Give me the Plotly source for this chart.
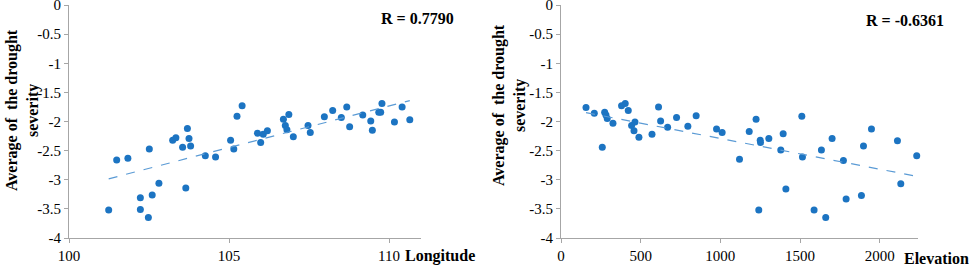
import numpy as np
import plotly.graph_objects as go

# Left panel: Longitude vs average drought severity
longitude = [101.24, 101.49, 101.84, 102.51, 102.23, 102.23, 102.48, 102.60, 102.81,
             103.24, 103.34, 103.55, 103.70, 103.75, 103.80, 103.65, 104.26, 104.58,
             105.05, 105.15, 105.25, 105.41, 105.89, 105.99, 106.07, 106.20, 106.70,
             106.87, 106.76, 106.81, 107.01, 107.47, 107.54, 107.98, 108.24, 108.51,
             108.68, 108.77, 109.18, 109.43, 109.48, 109.68, 109.74, 109.78, 110.17,
             110.41, 110.65]
severity_lon = [-3.52, -2.66, -2.63, -2.47, -3.31, -3.51, -3.65, -3.26, -3.06,
                -2.32, -2.28, -2.44, -2.12, -2.29, -2.42, -3.14, -2.59, -2.61,
                -2.32, -2.47, -1.91, -1.73, -2.20, -2.36, -2.22, -2.16, -1.96,
                -1.88, -2.07, -2.14, -2.26, -2.07, -2.19, -1.92, -1.81, -1.93,
                -1.75, -2.09, -1.89, -1.99, -2.15, -1.84, -1.84, -1.69, -2.01,
                -1.75, -1.97]

# Right panel: Elevation vs average drought severity
elevation = [157, 209, 259, 274, 282, 290, 326, 380, 403, 422, 443, 458, 464, 489,
             571, 612, 625, 669, 725, 796, 848, 976, 1011, 1120, 1181, 1224, 1241,
             1250, 1252, 1304, 1379, 1394, 1411, 1511, 1515, 1588, 1634, 1661, 1701,
             1772, 1789, 1885, 1898, 1948, 2111, 2132, 2232]
severity_elev = [-1.76, -1.86, -2.44, -1.84, -1.89, -1.95, -2.03, -1.73, -1.69, -1.81,
                 -2.07, -2.16, -2.01, -2.27, -2.22, -1.75, -1.99, -2.10, -1.93, -2.08,
                 -1.90, -2.13, -2.19, -2.65, -2.17, -1.96, -3.52, -2.32, -2.36, -2.29,
                 -2.49, -2.21, -3.16, -1.91, -2.61, -3.52, -2.49, -3.65, -2.29, -2.67,
                 -3.33, -3.27, -2.42, -2.13, -2.33, -3.07, -2.59]

r_labels = ["R = 0.7790", "R = -0.6361"]
x_titles = ["Longitude", "Elevation"]
y_title = "Average of  the drought<br>severity"

left_ticks = [100, 105, 110]
right_ticks = [0, 500, 1000, 1500, 2000]
y_ticks = [0, -0.5, -1, -1.5, -2, -2.5, -3, -3.5, -4]
y_tick_text = ["0", "-0.5", "-1", "-1.5", "-2", "-2.5", "-3", "-3.5", "-4"]

MARKER = "#1c74c2"
LINE = "#5b9bd5"
AXIS = "#a6a6a6"
FONT = "Liberation Serif"

W, H = 969, 266
def px(x):
    return x / W
def py(y):
    return 1 - y / H

fig = go.Figure()

def add_panel(xs, ys, xa, ya):
    fig.add_trace(go.Scatter(x=xs, y=ys, mode="markers", xaxis=xa, yaxis=ya,
                             marker=dict(color=MARKER, size=7), showlegend=False,
                             cliponaxis=False))
    k, b = np.polyfit(xs, ys, 1)
    x0, x1 = min(xs), max(xs)
    fig.add_trace(go.Scatter(x=[x0, x1], y=[k * x0 + b, k * x1 + b], mode="lines",
                             xaxis=xa, yaxis=ya, showlegend=False,
                             line=dict(color=LINE, width=1.2, dash="dash")))

add_panel(longitude, severity_lon, "x", "y")
add_panel(elevation, severity_elev, "x2", "y2")

ydom = [py(238), py(5)]
axis_common = dict(showgrid=False, zeroline=False, showline=True, linecolor=AXIS,
                   linewidth=1, ticks="outside", ticklen=4, tickcolor=AXIS,
                   automargin=False, ticklabeloverflow="allow",
                   tickfont=dict(family=FONT, size=15, color="#000"))

fig.update_layout(
    width=W, height=H, margin=dict(l=0, r=0, t=0, b=0),
    paper_bgcolor="white", plot_bgcolor="white",
    xaxis=dict(domain=[px(69), px(421)], range=[100, 111], tickmode="array",
               tickvals=left_ticks, anchor="y", **axis_common),
    yaxis=dict(domain=ydom, range=[-4, 0], tickmode="array", tickvals=y_ticks,
               ticktext=y_tick_text, anchor="x", **axis_common),
    xaxis2=dict(domain=[px(561), px(918)], range=[0, 2240], tickmode="array",
                tickvals=right_ticks, anchor="y2", **axis_common),
    yaxis2=dict(domain=ydom, range=[-4, 0], tickmode="array", tickvals=y_ticks,
                ticktext=y_tick_text, anchor="x2", **axis_common),
)

ann_font = dict(family=FONT, size=16, color="#000")
def ann(text, x, y, angle=0):
    return dict(text="<b>" + text + "</b>", x=px(x), y=py(y), xref="paper",
                yref="paper", showarrow=False, textangle=angle, font=ann_font,
                xanchor="center", yanchor="middle")

annotations = [
    ann(r_labels[0], 417, 19),
    ann(r_labels[1], 905, 20),
    ann(x_titles[0], 440, 256),
    ann(x_titles[1], 936, 258),
    ann(y_title, 23, 110, -90),
    ann(y_title, 509, 105, -90),
]
fig.update_layout(annotations=annotations)

fig.write_html("out.html", config={"displayModeBar": False},
               post_script="document.body.style.margin='0';document.body.style.overflow='hidden';")
